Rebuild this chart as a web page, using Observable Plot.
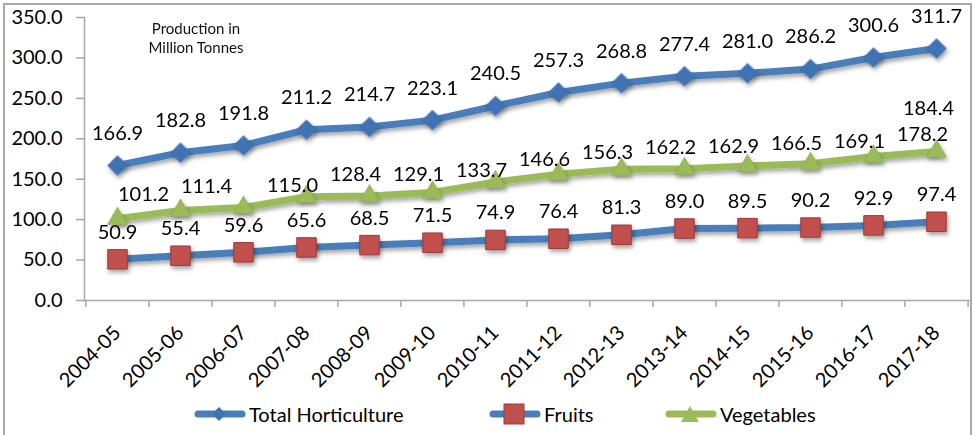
<!DOCTYPE html>
<html><head><meta charset="utf-8">
<script src="https://cdn.jsdelivr.net/npm/d3@7"></script>
<script src="https://cdn.jsdelivr.net/npm/@observablehq/plot@0.6"></script>
<style>
body{margin:0;background:#fff;font-family:Lato,"Open Sans",sans-serif;}
#wrap{position:relative;width:973px;height:435px;overflow:hidden;background:#fff;}
#border{position:absolute;left:3px;top:3px;width:965px;height:440px;border:2px solid #a9a9a9;pointer-events:none;}
#note{position:absolute;left:136px;top:19px;width:120px;text-align:center;font-size:15px;line-height:19px;color:#111;}
#legend{position:absolute;top:400px;left:0;width:973px;height:30px;}
.item{position:absolute;top:0;height:28px;display:flex;align-items:center;font-size:20px;color:#000;white-space:nowrap;}
.item svg{margin-right:2px;}
</style></head>
<body>
<div id="wrap"><div id="chart"></div><div id="note">Production in<br>Million Tonnes</div><div id="legend"></div><div id="border"></div></div>
<script>
const years = ["2004-05","2005-06","2006-07","2007-08","2008-09","2009-10","2010-11","2011-12","2012-13","2013-14","2014-15","2015-16","2016-17","2017-18"];
const totalHorticulture = [166.9,182.8,191.8,211.2,214.7,223.1,240.5,257.3,268.8,277.4,281.0,286.2,300.6,311.7];
const fruits = [50.9,55.4,59.6,65.6,68.5,71.5,74.9,76.4,81.3,89.0,89.5,90.2,92.9,97.4];
const vegetables = [101.2,111.4,115.0,128.4,129.1,133.7,146.6,156.3,162.2,162.9,166.5,169.1,178.2,184.4];
const seriesNames = ["Total Horticulture","Fruits","Vegetables"];
const yTicks = [0,50,100,150,200,250,300,350];

const BLUE = "#4A7EBB", RED = "#C0504D", GREEN = "#9BBB59", AXIS = "#a6a6a6";
const W = 973, H = 395, ML = 84, MR = 4.5;
const step = (W - ML - MR) / years.length;

const rows = (vals) => years.map((year, i) => ({year, value: vals[i], i}));
const T = rows(totalHorticulture), F = rows(fruits), V = rows(vegetables);
const fmt = d3.format(".1f");
const lbl = {x: "year", y: "value", text: d => fmt(d.value), fontSize: 20, fill: "#000"};

const chart = Plot.plot({
  width: W, height: H,
  marginLeft: ML, marginRight: MR, marginTop: 17, marginBottom: H - 300,
  x: {type: "point", domain: years, padding: 0.5},
  y: {domain: [0, 350]},
  style: {fontFamily: "Lato, 'Open Sans', sans-serif", color: "#000", background: "transparent", overflow: "visible"},
  marks: [
    Plot.frame({anchor: "left", stroke: AXIS, strokeWidth: 1.5}),
    Plot.frame({anchor: "bottom", stroke: AXIS, strokeWidth: 1.5}),
    Plot.axisY({ticks: yTicks, tickFormat: fmt, tickSize: 8, tickPadding: 14, fontSize: 20, stroke: AXIS, strokeWidth: 1.5, label: null}),
    Plot.axisX({tickSize: 0, tickRotate: -45, tickPadding: 29, fontSize: 20, label: null}),
    Plot.ruleX(years, {x: d => d, y1: 0, y2: 0, insetBottom: -7, dx: -step / 2, stroke: AXIS, strokeWidth: 1.5}),
    Plot.ruleX(years.slice(-1), {x: d => d, y1: 0, y2: 0, insetBottom: -7, dx: step / 2, stroke: AXIS, strokeWidth: 1.5}),
    Plot.line(T, {x: "year", y: "value", stroke: BLUE, strokeWidth: 7, className: "sline"}),
    Plot.line(V, {x: "year", y: "value", stroke: GREEN, strokeWidth: 7, className: "sline"}),
    Plot.line(F, {x: "year", y: "value", stroke: BLUE, strokeWidth: 7, className: "sline"}),
    Plot.dot(T, {x: "year", y: "value", symbol: "diamond2", r: 9, fill: "#3F73B3", stroke: "#3a6aa6", strokeWidth: 0.5, className: "sdot"}),
    Plot.dot(V, {x: "year", y: "value", symbol: "triangle", r: 7.5, fill: GREEN, stroke: "#86a64a", strokeWidth: 0.5, className: "sdot"}),
    Plot.dot(F, {x: "year", y: "value", symbol: "square", r: 11, fill: RED, stroke: "#9b3b39", strokeWidth: 1, className: "sdot"}),
    Plot.text(T, {...lbl, dy: -32}),
    Plot.text(F, {...lbl, dy: -27}),
    Plot.text(V.filter(d => d.i < 2), {...lbl, dx: 26, dy: -24}),
    Plot.text(V.filter(d => d.i >= 2 && d.i < years.length - 1), {...lbl, dx: 49, dy: -22}),
    Plot.text(V.filter(d => d.i === years.length - 1), {...lbl, dx: -8, dy: -43})
  ]
});
document.getElementById("chart").appendChild(chart);

// shadow effect like the original spreadsheet chart
const svg = d3.select(chart);
const f = svg.insert("defs", ":first-child").append("filter").attr("id", "shadow")
  .attr("x", "-50%").attr("y", "-50%").attr("width", "200%").attr("height", "200%");
f.append("feDropShadow").attr("dx", 1.5).attr("dy", 3).attr("stdDeviation", 2)
  .attr("flood-color", "#000").attr("flood-opacity", 0.35);
svg.selectAll(".sdot").attr("filter", "url(#shadow)");
svg.selectAll(".sline").attr("filter", "url(#shadow)");

// legend
const legendSymbols = [
  `<polygon points="26,7 33,14 26,21 19,14" fill="#3F73B3"/>`,
  `<rect x="16" y="4" width="20" height="20" fill="${RED}" stroke="#9b3b39"/>`,
  `<polygon points="26,6 35,22 17,22" fill="${GREEN}"/>`
];
const legendColors = [BLUE, BLUE, GREEN];
const legendLeft = [193, 488, 664];
const legend = document.getElementById("legend");
seriesNames.forEach((name, i) => {
  const d = document.createElement("div");
  d.className = "item";
  d.style.left = legendLeft[i] + "px";
  d.innerHTML = `<svg width="54" height="28"><line x1="5" y1="14" x2="49" y2="14" stroke="${legendColors[i]}" stroke-width="7" stroke-linecap="round"/>${legendSymbols[i]}</svg><span>${name}</span>`;
  legend.appendChild(d);
});
</script>
</body></html>
